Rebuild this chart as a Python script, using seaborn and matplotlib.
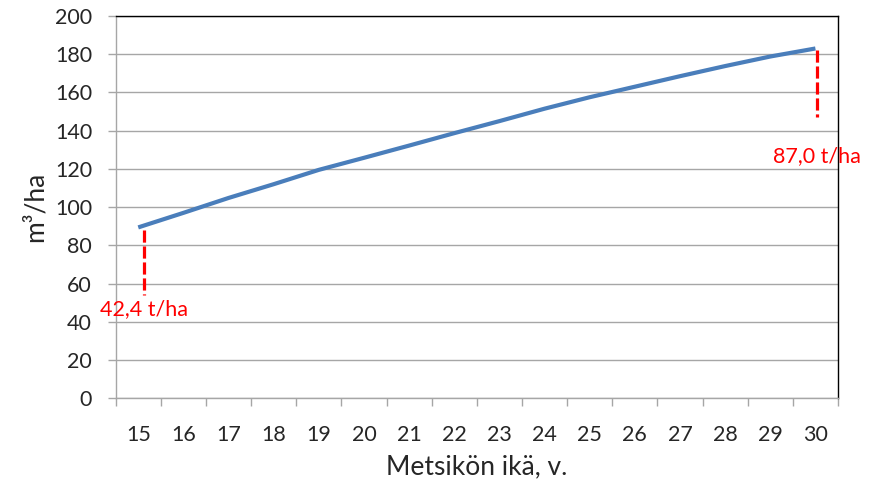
import matplotlib
matplotlib.use("Agg")
import matplotlib.pyplot as plt
import seaborn as sns
import pandas as pd
from matplotlib.ticker import FixedLocator

# Stand age (years) and growing stock volume (m3/ha)
ages = [15, 16, 17, 18, 19, 20, 21, 22, 23, 24, 25, 26, 27, 28, 29, 30]
volume = [89.4, 97.0, 104.8, 112.0, 119.5, 125.8, 132.2, 138.7,
          145.0, 151.5, 157.5, 163.0, 168.5, 173.8, 178.8, 183.0]

# Biomass markers: position, vertical extent and label
marker_age = [15.13, 30.04]
marker_top = [88, 182]
marker_bottom = [54, 147]
marker_labels = ["42,4 t/ha", "87,0 t/ha"]

y_ticks = list(range(0, 201, 20))

sns.set_style("white")
plt.rcParams["font.family"] = ["Lato", "DejaVu Sans"]

df = pd.DataFrame({"age": ages, "volume": volume})

fig = plt.figure(figsize=(8.71, 4.86), dpi=100)
ax = fig.add_axes([0.1328, 0.1805, 0.8293, 0.7866])

grid_col = "#a6a6a6"
text_col = "#262626"

sns.lineplot(data=df, x="age", y="volume", ax=ax, color="#4a7ebb",
             linewidth=3.0, solid_capstyle="butt", zorder=3)

for xa, yt, yb in zip(marker_age, marker_top, marker_bottom):
    ax.plot([xa, xa], [yt, yb], color="#ff0000", linewidth=2.3,
            linestyle=(0, (3.8, 1.2)), zorder=4, dash_capstyle="butt")

# Labels beside the markers
ax.text(14.15, 46.7, marker_labels[0], color="#ff0000", fontsize=15.5,
        ha="left", va="center", clip_on=False)
ax.text(29.05, 126.7, marker_labels[1], color="#ff0000", fontsize=15.5,
        ha="left", va="center", clip_on=False)

ax.set_xlim(ages[0] - 0.5, ages[-1] + 0.5)
ax.set_ylim(0, 200)
ax.set_yticks(y_ticks)
ax.set_xticks(ages)
ax.set_xticklabels([str(a) for a in ages])
ax.xaxis.set_minor_locator(FixedLocator([a - 0.5 for a in ages] + [ages[-1] + 0.5]))

ax.yaxis.grid(True, color=grid_col, linewidth=1.0, zorder=0)
ax.xaxis.grid(False)

ax.tick_params(axis="x", which="major", length=0, pad=19, labelsize=15.5,
               labelcolor=text_col)
ax.tick_params(axis="x", which="minor", length=6, width=1.0, color=grid_col,
               direction="out", bottom=True)
ax.tick_params(axis="y", which="major", length=6, width=1.0, color=grid_col,
               direction="out", left=True, pad=11, labelsize=15.5,
               labelcolor=text_col)

for side in ["left", "bottom"]:
    ax.spines[side].set_color(grid_col)
    ax.spines[side].set_linewidth(1.0)
for side in ["top", "right"]:
    ax.spines[side].set_color("#000000")
    ax.spines[side].set_linewidth(1.0)

ax.set_xlabel("Metsikön ikä, v.", fontsize=19, color=text_col, labelpad=7)
ax.set_ylabel("m³/ha", fontsize=19, color=text_col, labelpad=5)

fig.savefig("out.png", dpi=100)
